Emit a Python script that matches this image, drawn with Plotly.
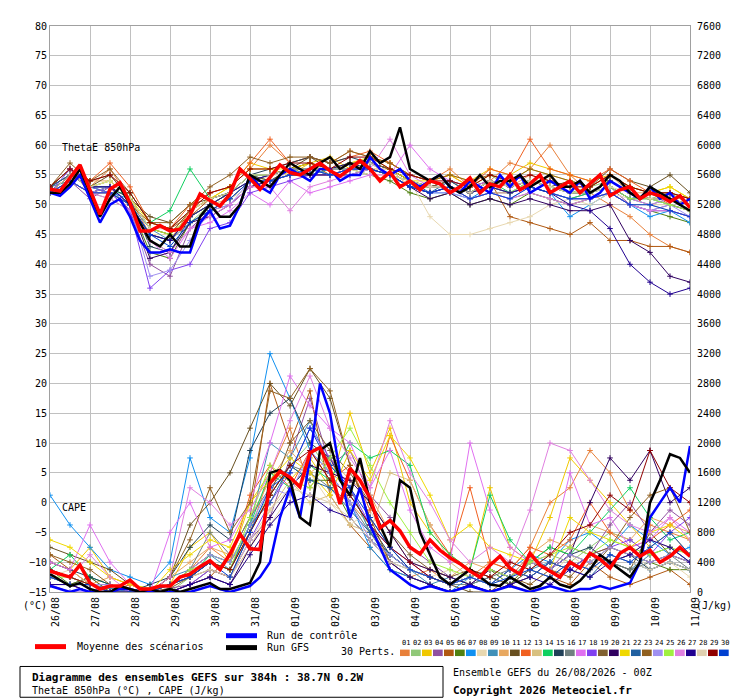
import plotly.graph_objects as go

H6 = list(range(0, 385, 6))
H12 = list(range(0, 385, 12))
day_labels = ["26/08","27/08","28/08","29/08","30/08","31/08","01/09","02/09","03/09","04/09","05/09","06/09","07/09","08/09","09/09","10/09","11/09"]

mean_theta = [52.6,52.3,54.5,56.7,52.5,48.4,52.6,53.7,50.3,45.6,45.6,46.5,45.6,45.9,48.2,51.8,50.7,49.8,51.8,56,
              54.4,52.6,54.6,56.7,55.4,55,56,57,55.7,54.8,56,57.4,56,54,55.5,53,54,52.5,54,53.5,
              52,53,54.5,52,53.5,53,55,52.5,53.5,55,52,53,54,52,53.5,55,51.5,52.5,53,51,52,51.5,50.5,51.5,49.5]
ctrl_theta = [52,51.5,53,55,51,47,50,51,48,44,42,42,42.5,42,42,47,49,46,46.5,50,
              55,53,52,55,56,55,54,56,56,54,55,55,58,56,55,56,54,53,54,55,
              53,52,54,53,52,55,53,55,52,53,54,53,52,54,51,52,54,53,52,51,53,51,52,50,51]
gfs_theta = [52,52,53.5,56,52,48,51,53,50,47,44,43,45,43,43,48,50,48,48,50,
             55,54,53,55,57,56,55,57,58,56,57,56,59,57,58,63,56,55,54,55,
             53,52,53,55,53,54,54,55,53,54,55,53,53,54,52,53,55,54,52,51,53,52,51,50,49]
mean_cape = [280,240,200,360,120,40,80,80,160,40,40,80,80,200,240,340,420,300,510,780,
             580,570,1460,1620,1540,1410,1870,1940,1660,1180,1660,1500,1260,860,960,820,600,510,700,560,
             460,380,280,200,360,480,320,240,520,360,280,200,400,320,520,440,320,520,600,480,560,400,480,600,480]
ctrl_cape = [80,40,0,40,0,0,0,40,40,0,0,0,0,0,0,40,80,40,0,40,
             80,200,400,1000,1400,1000,1800,2800,2400,1600,1000,1400,900,600,300,200,100,40,80,40,
             0,40,80,40,0,40,80,40,0,40,80,40,0,40,40,80,40,80,120,400,1000,1200,1400,1200,1960]
gfs_cape = [240,160,80,120,40,0,0,80,40,0,40,0,40,0,40,80,120,40,40,80,
            120,400,1600,1640,1500,1000,900,1900,2000,1500,1300,1800,1200,900,600,1500,1400,800,500,200,
            100,200,300,200,100,80,200,120,40,80,200,100,60,150,300,500,400,300,200,400,1200,1500,1850,1800,1600]

pert_colors = ["#e8803a","#90c878","#f0c800","#9050a0","#b05810","#508010","#1090f0","#e8d8b0","#4090b8","#e8a860",
               "#685020","#f06020","#d8c080","#10d060","#204058","#708080","#e070f0","#8040f0","#806030","#300060",
               "#f0d800","#2060a0","#906020","#a090f0","#a0f040","#e080e0","#200090","#e0d0b0","#900000","#0040d0"]

p01=[52,55,53,56,51,45,44,49,52,53,56,60,57,58,57,59,58,57,55,54,56,53,54,57,56,60,55,52,50,48,45,43,42]
p02=[53,54,52,51,49,44,42,47,50,52,55,55,56,57,56,57,57,56,54,53,54,53,55,53,54,54,52,53,54,52,51,52,50]
p03=[52,55,53,54,51,46,45,49,51,53,57,56,55,57,58,56,58,57,55,54,55,54,56,55,57,56,55,54,55,53,52,53,51]
p04=[52,54,51,53,49,40,38,46,49,50,53,54,55,56,55,55,56,55,53,52,53,51,52,52,53,52,51,52,53,50,49,50,49]
p05=[53,56,52,53,50,47,46,48,51,52,54,55,56,57,55,56,57,56,54,53,53,52,54,48,47,46,45,47,44,44,43,43,42]
p06=[52,54,52,52,50,42,41,47,49,51,54,54,55,55,56,56,55,54,52,51,52,50,51,50,52,51,50,51,52,50,49,48,47]
p07=[52,55,53,52,51,46,46,49,51,52,55,54,56,56,55,55,56,55,53,52,52,51,53,52,53,52,48,50,52,50,48,49,47]
p08=[52,54,52,53,50,45,45,48,50,51,53,55,55,55,55,56,55,55,54,48,45,45,46,47,48,50,51,50,52,51,50,50,49]
p09=[53,54,52,53,50,46,44,48,50,52,54,55,56,55,56,56,56,55,53,52,53,52,54,53,54,53,52,52,53,51,52,51,50]
p10=[52,55,54,54,51,46,45,49,51,52,55,55,56,57,56,57,56,56,53,53,54,52,54,53,55,54,53,53,55,52,52,52,51]
p11=[53,56,53,55,51,48,47,50,51,52,55,54,56,58,56,57,57,56,54,53,53,52,54,53,54,53,54,53,56,54,53,55,52]
p12=[52,55,54,57,53,47,46,50,52,53,57,61,57,58,57,58,59,57,55,54,55,53,56,55,61,56,55,54,56,54,52,50,49]
p13=[52,54,52,52,50,45,44,48,50,51,54,54,55,56,55,56,56,55,53,52,53,51,52,52,53,52,51,51,52,50,50,49,48]
p14=[52,55,53,52,52,47,49,56,51,52,55,55,56,56,55,56,56,55,53,53,53,52,54,52,53,52,51,52,53,51,50,51,50]
p15=[53,55,53,53,51,43,42,48,50,52,55,56,57,58,57,58,57,56,54,53,54,53,54,53,54,53,52,52,54,52,51,51,50]
p16=[52,54,52,52,50,45,44,47,49,51,54,54,55,55,55,55,56,55,53,52,53,51,52,51,52,51,50,51,52,50,49,49,48]
p17=[52,54,52,52,49,44,41,46,47,49,52,50,54,52,53,54,55,55,60,56,54,53,54,53,54,53,52,52,53,51,50,51,50]
p18=[52,56,53,52,49,36,39,40,46,47,52,53,54,55,55,56,56,55,53,52,53,52,53,52,53,52,51,51,52,50,49,49,48]
p19=[53,55,54,55,51,46,45,49,51,52,55,55,56,57,56,57,57,56,54,53,54,52,54,53,54,53,52,52,54,52,51,51,50]
p20=[52,54,52,53,50,41,42,47,48,50,53,54,55,55,55,56,56,55,53,51,52,50,51,50,51,50,49,49,50,44,42,38,37]
p21=[52,55,53,54,51,47,46,49,51,53,56,56,56,57,56,57,58,56,54,54,55,53,55,54,56,55,54,53,55,53,52,53,51]
p22=[53,55,53,53,50,45,44,48,50,52,55,55,56,56,56,56,57,55,54,52,54,52,53,52,54,53,52,52,53,51,51,50,49]
p23=[53,57,54,56,52,47,47,50,53,55,58,57,58,58,57,59,58,57,55,54,55,54,55,54,56,55,54,53,55,53,52,52,51]
p24=[52,54,52,53,50,38,39,44,49,50,54,54,55,56,55,56,56,55,53,52,52,51,52,51,53,52,51,51,52,50,49,50,48]
p25=[52,55,53,54,51,46,45,48,50,52,55,55,56,56,56,57,56,55,54,53,53,52,53,52,54,53,52,52,53,51,51,50,49]
p26=[52,54,52,51,49,44,42,46,48,50,53,53,49,53,54,55,56,61,55,53,53,51,52,51,52,51,50,51,52,50,49,49,48]
p27=[52,55,53,53,50,45,44,48,50,52,54,55,56,56,56,57,56,55,53,52,53,52,53,52,53,52,50,49,46,40,37,35,36]
p28=[52,55,53,54,51,46,46,49,51,52,55,55,56,56,56,56,57,55,54,53,53,52,54,53,54,53,52,52,53,52,51,51,50]
p29=[53,56,54,55,52,47,46,49,52,53,56,56,57,57,56,58,58,56,55,54,54,53,55,54,55,54,53,53,55,53,52,52,51]
p30=[52,54,52,52,50,45,43,47,49,51,54,54,55,56,55,56,56,55,53,52,53,51,52,51,53,52,51,51,52,50,50,49,48]

c01=[200,100,0,50,0,0,100,300,600,400,800,1600,2200,1400,1800,1200,900,400,200,300,100,200,400,300,600,1200,1400,1900,1600,1100,900,800,700]
c02=[300,200,100,0,100,0,0,200,400,300,900,1300,1700,2000,1600,1400,800,500,300,200,100,300,200,100,300,500,400,600,800,700,500,600,400]
c03=[400,300,600,200,100,50,100,600,800,400,1200,1600,1500,1800,1400,2400,1600,2200,1200,800,500,300,1400,600,400,1000,1800,1500,1200,900,600,800,500]
c04=[200,100,200,0,0,0,50,100,300,200,700,1000,1800,2600,1700,1900,1300,1000,600,400,200,100,300,200,500,300,600,500,900,1200,800,1100,900]
c05=[500,300,100,100,0,0,0,100,200,500,1000,2800,2000,2700,1300,900,600,300,200,100,0,100,0,100,0,200,100,400,200,100,200,300,100]
c06=[300,100,200,0,0,0,100,200,400,300,800,1300,1700,1500,1500,1000,700,500,300,200,100,200,300,100,400,600,500,400,600,500,400,300,300]
c07=[1300,900,600,300,200,100,400,1800,1000,800,1800,3200,2600,1900,1600,1200,600,300,200,100,0,200,100,300,500,400,700,800,600,900,700,500,600]
c08=[200,300,100,100,0,0,0,100,200,100,500,900,1300,1600,1200,900,1100,600,400,200,300,100,200,400,300,200,500,300,400,600,300,400,200]
c09=[300,200,100,50,0,0,200,300,500,300,900,2000,1800,2300,1700,1400,800,500,300,100,200,100,200,100,300,400,300,500,400,300,500,600,400]
c10=[400,300,100,200,100,0,200,400,600,500,1000,1500,1900,1600,1800,1500,1300,800,400,300,200,400,300,200,500,700,600,900,800,700,1000,900,800]
c11=[600,500,400,300,100,0,200,900,1200,1600,2200,2800,2500,3000,2600,1700,1000,600,300,200,100,0,0,100,200,400,300,500,400,300,800,500,400]
c12=[300,200,100,0,100,0,100,300,500,400,1300,1700,1400,1900,1500,1700,1100,2100,1500,900,500,1400,400,300,600,500,700,1200,800,600,700,900,1100]
c13=[200,100,100,0,0,0,0,100,300,200,600,1100,1500,1200,1300,900,800,1600,1500,900,400,200,300,200,400,300,500,400,600,500,700,600,500]
c14=[300,500,200,100,0,0,100,200,500,400,900,1600,1400,1700,1500,2000,1800,1900,1700,800,500,300,1300,700,400,600,500,800,1100,1400,1000,700,800]
c15=[400,300,200,100,0,100,200,600,900,700,1900,2400,2600,2000,1800,1300,900,500,300,200,100,200,300,200,400,300,500,600,400,500,300,400,300]
c16=[300,200,100,100,0,0,100,300,800,500,1000,1400,1700,1600,1400,1200,800,400,300,200,100,100,200,300,200,400,300,500,400,300,400,500,300]
c17=[400,300,900,400,100,0,800,1200,600,700,1200,2000,2900,2500,2200,2000,1400,1900,1100,600,400,2000,1100,600,400,500,1600,900,1000,600,700,1000,800]
c18=[100,0,0,100,0,0,0,100,300,200,700,1200,1600,2200,1800,1400,900,600,400,200,100,200,100,300,200,400,300,500,600,700,500,800,1000]
c19=[200,100,100,0,0,0,50,200,300,200,800,1300,2000,2300,1900,1600,1200,800,500,300,200,300,200,100,300,200,400,300,600,500,400,500,400]
c20=[100,100,0,0,0,0,0,100,200,100,600,1000,1400,1700,1600,1500,1200,800,400,300,200,100,300,200,400,300,500,1200,1800,1500,1900,1200,1400]
c21=[700,600,400,200,100,0,300,500,700,600,1200,1500,1800,1600,1300,1900,1500,2100,1800,1300,700,900,600,500,400,300,1000,800,700,600,800,900,700]
c22=[200,100,100,0,0,0,100,200,400,300,900,1200,1700,1500,1400,1100,800,500,300,200,100,200,100,300,200,400,300,200,500,400,300,400,300]
c23=[500,400,300,100,0,0,200,700,1400,800,1200,2700,2600,3000,2700,1700,1000,400,200,100,0,100,0,200,100,300,200,500,600,1000,1300,1400,800]
c24=[300,200,100,100,0,0,100,300,500,400,900,1400,1300,1900,1600,1200,700,500,300,200,100,200,300,200,400,300,500,400,600,500,400,500,400]
c25=[200,200,100,0,0,0,100,300,400,300,1000,1700,1500,1400,1800,2200,1700,1200,800,400,300,200,300,200,400,500,600,500,700,600,500,600,500]
c26=[300,200,500,200,0,0,200,1400,1200,900,1100,1600,2300,2900,2200,1800,1400,2300,1600,1200,700,400,600,400,1100,2000,1900,1500,1100,900,800,1000,700]
c27=[100,100,0,0,0,0,0,100,200,100,500,900,1200,1300,1100,1000,700,400,200,100,0,100,0,100,200,100,300,200,400,500,700,600,400]
c28=[200,100,100,0,0,0,100,200,300,200,700,1100,1400,1300,1200,1000,700,400,300,200,100,200,100,200,300,200,400,300,500,400,300,400,300]
c29=[300,200,100,0,0,0,100,200,400,300,800,1300,1700,1900,1500,1300,900,600,400,200,100,300,200,400,300,500,800,900,1300,1100,1900,1400,1200]
c30=[200,100,100,0,0,0,100,200,400,200,800,1400,1600,2200,1700,1400,1000,600,300,200,100,200,100,200,300,200,400,300,500,400,600,800,500]

pert_theta = [p01,p02,p03,p04,p05,p06,p07,p08,p09,p10,p11,p12,p13,p14,p15,p16,p17,p18,p19,p20,p21,p22,p23,p24,p25,p26,p27,p28,p29,p30]
pert_cape = [c01,c02,c03,c04,c05,c06,c07,c08,c09,c10,c11,c12,c13,c14,c15,c16,c17,c18,c19,c20,c21,c22,c23,c24,c25,c26,c27,c28,c29,c30]

FONT = "DejaVu Sans Mono"
fig = go.Figure()
for i in range(30):
    col = pert_colors[i]
    for vals, ax in ((pert_theta[i], "y"), (pert_cape[i], "y2")):
        fig.add_trace(go.Scatter(x=H12[:len(vals)], y=vals, yaxis=ax, mode="lines+markers",
                                 line=dict(color=col, width=1),
                                 marker=dict(symbol="cross-thin", size=4, line=dict(color=col, width=1)),
                                 showlegend=False, hoverinfo="skip"))
for vals, ax in ((ctrl_theta, "y"), (ctrl_cape, "y2")):
    fig.add_trace(go.Scatter(x=H6, y=vals, yaxis=ax, mode="lines", line=dict(color="#0000ff", width=2.5), showlegend=False))
for vals, ax in ((gfs_theta, "y"), (gfs_cape, "y2")):
    fig.add_trace(go.Scatter(x=H6, y=vals, yaxis=ax, mode="lines", line=dict(color="#000000", width=2.5), showlegend=False))
for vals, ax in ((mean_theta, "y"), (mean_cape, "y2")):
    fig.add_trace(go.Scatter(x=H6, y=vals, yaxis=ax, mode="lines", line=dict(color="#ff0000", width=3.5), showlegend=False))

OFF = 8  # page body margin
L, T, W, Hh = 50 - OFF, 22 - OFF, 640, 570
def px(x, y):
    return (x - OFF - L) / W, (T + Hh - (y - OFF)) / Hh

shapes, ann = [], []
def text(x, y, s, size=10, bold=False, anchor="left", angle=0):
    xp, yp = px(x, y)
    ann.append(dict(x=xp, y=yp, xref="paper", yref="paper", text=("<b>%s</b>" % s) if bold else s,
                    showarrow=False, xanchor=anchor, yanchor="middle", textangle=angle,
                    font=dict(family=FONT, size=size, color="black")))
def line(x0, y0, x1, y1, col, w):
    a, b = px(x0, y0); c, d = px(x1, y1)
    shapes.append(dict(type="line", xref="paper", yref="paper", x0=a, y0=b, x1=c, y1=d, line=dict(color=col, width=w)))
def rect(x0, y0, x1, y1, fill, lc=None, lw=0):
    a, b = px(x0, y0); c, d = px(x1, y1)
    shapes.append(dict(type="rect", xref="paper", yref="paper", x0=a, y0=b, x1=c, y1=d, fillcolor=fill,
                       line=dict(color=lc or fill, width=lw)))

text(60, 144, "ThetaE 850hPa")
text(60, 507, "CAPE")
text(21, 606, "(°C)")
text(694, 606, "(J/kg)")
line(35, 647, 66, 647, "#ff0000", 5)
text(75, 647, "Moyenne des scénarios")
line(226, 636, 257, 636, "#0000ff", 5)
text(265, 636, "Run de contrôle")
line(226, 648, 257, 648, "#000000", 5)
text(265, 648, "Run GFS")
text(397, 652, "30 Perts.", anchor="right")
bx0, bw = 400, 11
for i, col in enumerate(pert_colors):
    x0 = bx0 + i * bw
    rect(x0, 650, x0 + bw - 1.3, 656.5, col)
    text(x0 + bw / 2, 643, "%02d" % (i + 1), size=7, anchor="center")
rect(20, 667, 443, 698, "rgba(0,0,0,0)", "black", 1)
text(30, 678, "Diagramme des ensembles GEFS sur 384h : 38.7N 0.2W", size=11, bold=True)
text(30, 691, "ThetaE 850hPa (°C) , CAPE (J/kg)")
text(451, 673, "Ensemble GEFS du 26/08/2026 - 00Z")
text(451, 691, "Copyright 2026 Meteociel.fr", size=11, bold=True)

fig.update_layout(
    width=740, height=700, margin=dict(l=L, r=740 - L - W, t=T, b=700 - T - Hh),
    paper_bgcolor="white", plot_bgcolor="white", font=dict(family=FONT, size=10, color="black"),
    shapes=shapes, annotations=ann, showlegend=False,
    xaxis=dict(range=[0, 384], tickvals=list(range(0, 385, 24)), ticktext=day_labels, tickangle=-90,
               ticklabelshift=6, showgrid=True, gridcolor="#c0c0c0", gridwidth=1, zeroline=False,
               showline=True, linecolor="#a0a0a0", mirror=True, ticks="", tickfont=dict(family=FONT, size=10)),
    yaxis=dict(range=[-15, 80], dtick=5, showgrid=True, gridcolor="#c0c0c0", zeroline=False,
               showline=True, linecolor="#a0a0a0", mirror=True, ticks="", tickfont=dict(family=FONT, size=10)),
    yaxis2=dict(range=[0, 7600], dtick=400, overlaying="y", side="right", showgrid=False, zeroline=False,
                ticks="", ticklabelstandoff=6, tickfont=dict(family=FONT, size=10)),
)
fig.write_html("out.html")
